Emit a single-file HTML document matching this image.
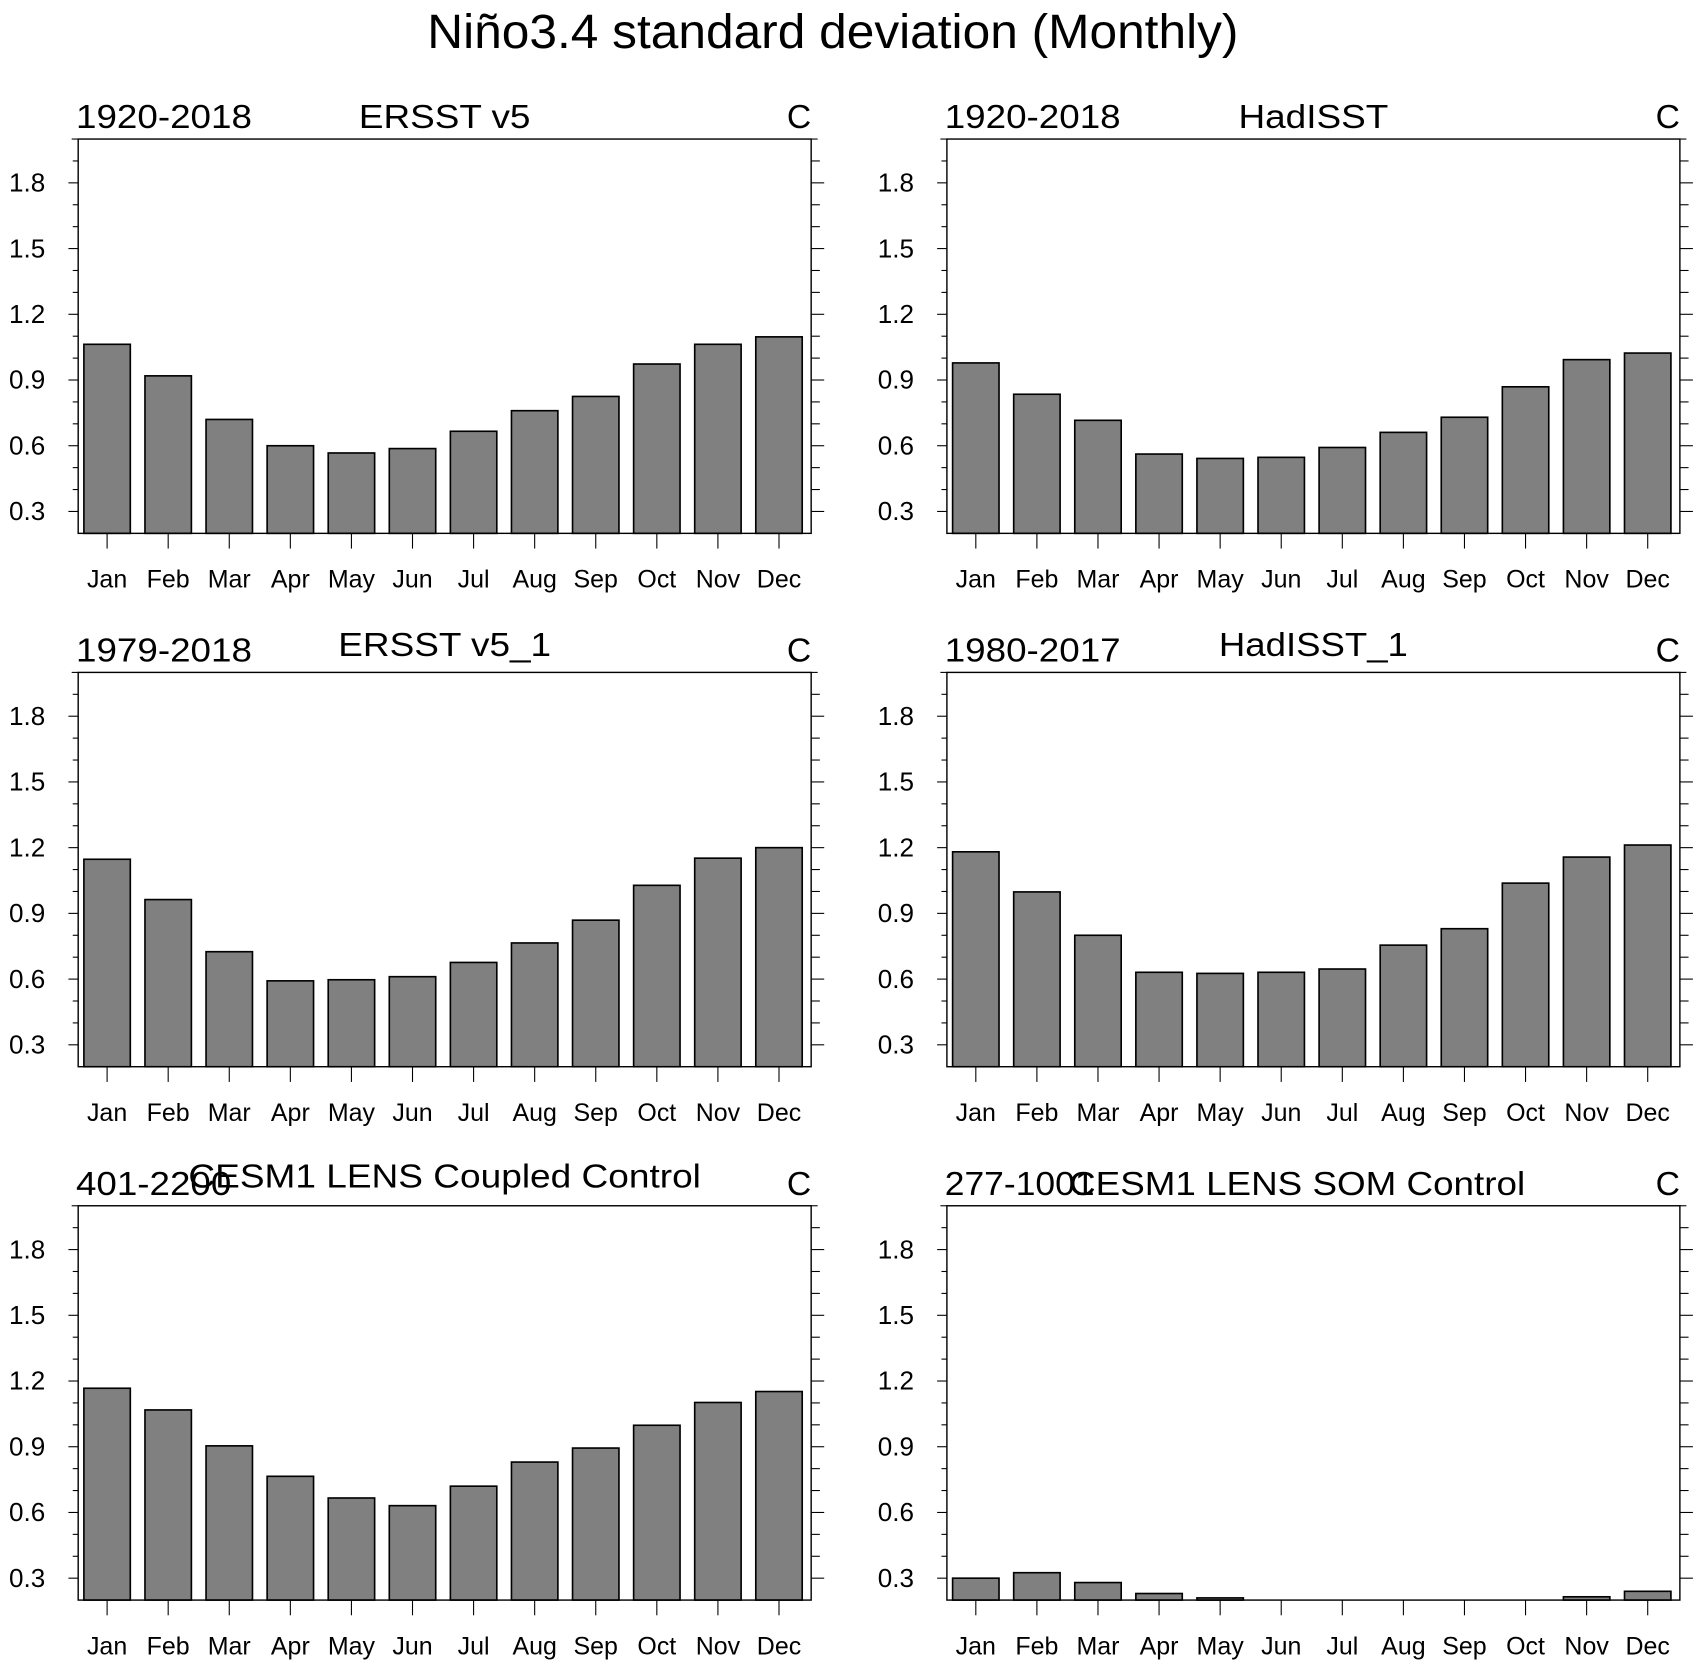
<!DOCTYPE html>
<html><head><meta charset="utf-8"><style>
html,body{margin:0;padding:0;background:#fff;}
svg{display:block;font-family:"Liberation Sans",Arial,sans-serif;}
</style></head><body>
<svg id="chart" width="1694" height="1662" viewBox="0 0 1560 1530" preserveAspectRatio="none" xmlns="http://www.w3.org/2000/svg">
<text x="767" y="44" font-size="44" text-anchor="middle" textLength="747" lengthAdjust="spacingAndGlyphs">Niño3.4 standard deviation (Monthly)</text>
<g id="panels"></g>
</svg>
<script>
const months = ["Jan","Feb","Mar","Apr","May","Jun","Jul","Aug","Sep","Oct","Nov","Dec"];
const yTicks = [0.3,0.6,0.9,1.2,1.5,1.8];
const yTickLabels = ["0.3","0.6","0.9","1.2","1.5","1.8"];
const ersst = [1.063,0.919,0.72,0.60,0.567,0.587,0.666,0.76,0.825,0.973,1.063,1.097];
const hadisst = [0.978,0.835,0.716,0.562,0.542,0.547,0.592,0.661,0.73,0.869,0.993,1.023];
const ersst1 = [1.147,0.963,0.725,0.592,0.597,0.611,0.676,0.765,0.869,1.028,1.152,1.2];
const hadisst1 = [1.181,0.998,0.8,0.631,0.626,0.631,0.646,0.755,0.83,1.038,1.157,1.212];
const coupled = [1.167,1.068,0.904,0.765,0.666,0.631,0.72,0.83,0.894,0.998,1.102,1.152];
const som = [0.30,0.325,0.28,0.23,0.21,0.15,0.15,0.15,0.15,0.15,0.215,0.24];
const periods = ["1920-2018","1920-2018","1979-2018","1980-2017","401-2200","277-1001"];
const titles = ["ERSST v5","HadISST","ERSST v5_1","HadISST_1","CESM1 LENS Coupled Control","CESM1 LENS SOM Control"];
const series = [ersst,hadisst,ersst1,hadisst1,coupled,som];

const NS="http://www.w3.org/2000/svg";
const YMIN=0.2, YMAX=2.0, PW=675, PH=363;
const lefts=[72,872], tops=[128,619,1110];
const titleLens=[158,138,196,174,472,420];
const periodLens=[162,162,162,162,143,138];
const periodY=[118,609,1100];
const titleDy=[[0,0],[-5,-5],[-7,0]];
function mk(tag,attrs,parent){const e=document.createElementNS(NS,tag);for(const k in attrs)e.setAttribute(k,attrs[k]);parent.appendChild(e);return e;}
const root=document.getElementById('panels');
series.forEach((vals,pi)=>{
  const row=Math.floor(pi/2), col=pi%2;
  const x0=lefts[col], y0=tops[row];
  const yS=v=>y0+PH-(Math.max(YMIN,Math.min(YMAX,v))-YMIN)/(YMAX-YMIN)*PH;
  const step=PW/12;
  const xS=i=>x0+step*(i+0.5)-1.5;
  const g=mk('g',{},root);
  
  
  const bars=mk('g',{},g);
  
  
  vals.forEach((v,i)=>{
    if(v<=YMIN) return;
    const bw=step*0.76, top=yS(v);
    const r=mk('rect',{x:xS(i)-bw/2,y:top,width:bw,height:y0+PH-top,fill:'#808080',stroke:'#000','stroke-width':1.5},bars);
    
    
  });
  const box=mk('rect',{x:x0,y:y0,width:PW,height:PH,fill:'none',stroke:'#000','stroke-width':1.3},g);
  
  
  for(let k=3;k<=19;k++){
    const v=k/10; if(v>=YMAX) continue;
    const y=yS(v); const major=yTicks.some(t=>Math.abs(t-v)<1e-6);
    const L=major?9:5;
    mk('line',{x1:x0-L,x2:x0,y1:y,y2:y,stroke:'#000','stroke-width':1},g);
    mk('line',{x1:x0+PW,x2:x0+PW+L+3,y1:y,y2:y,stroke:'#000','stroke-width':1},g);
  }
  mk('line',{x1:x0-6,x2:x0,y1:y0,y2:y0,stroke:'#000','stroke-width':1},g);
  mk('line',{x1:x0+PW,x2:x0+PW+6,y1:y0,y2:y0,stroke:'#000','stroke-width':1},g);
  yTicks.forEach((t,i)=>{
    const tx=mk('text',{x:x0-47,y:yS(t)+8,'font-size':24,'text-anchor':'middle'},g);
    tx.textContent=yTickLabels[i];
    
    
  });
  months.forEach((m,i)=>{
    const x=x0+step*(i+0.5)-1.5;
    mk('line',{x1:x,x2:x,y1:y0+PH,y2:y0+PH+14,stroke:'#000','stroke-width':1},g);
    const tx=mk('text',{x:x,y:y0+PH+50,'font-size':23,'text-anchor':'middle'},g);
    tx.textContent=m;
    
    
  });
  const p=mk('text',{x:x0-2,y:periodY[row],'font-size':31,textLength:periodLens[pi],lengthAdjust:'spacingAndGlyphs'},g);
  p.textContent=periods[pi];
  
  
  const t=mk('text',{x:x0+PW/2+(pi===5?-15:0),y:periodY[row]+titleDy[row][col],'font-size':31,'text-anchor':'middle',textLength:titleLens[pi],lengthAdjust:'spacingAndGlyphs'},g);
  t.textContent=titles[pi];
  
  
  const c=mk('text',{x:x0+PW,y:periodY[row],'font-size':31,'text-anchor':'end'},g);
  c.textContent='C';
  
  
});
</script>
</body></html>
